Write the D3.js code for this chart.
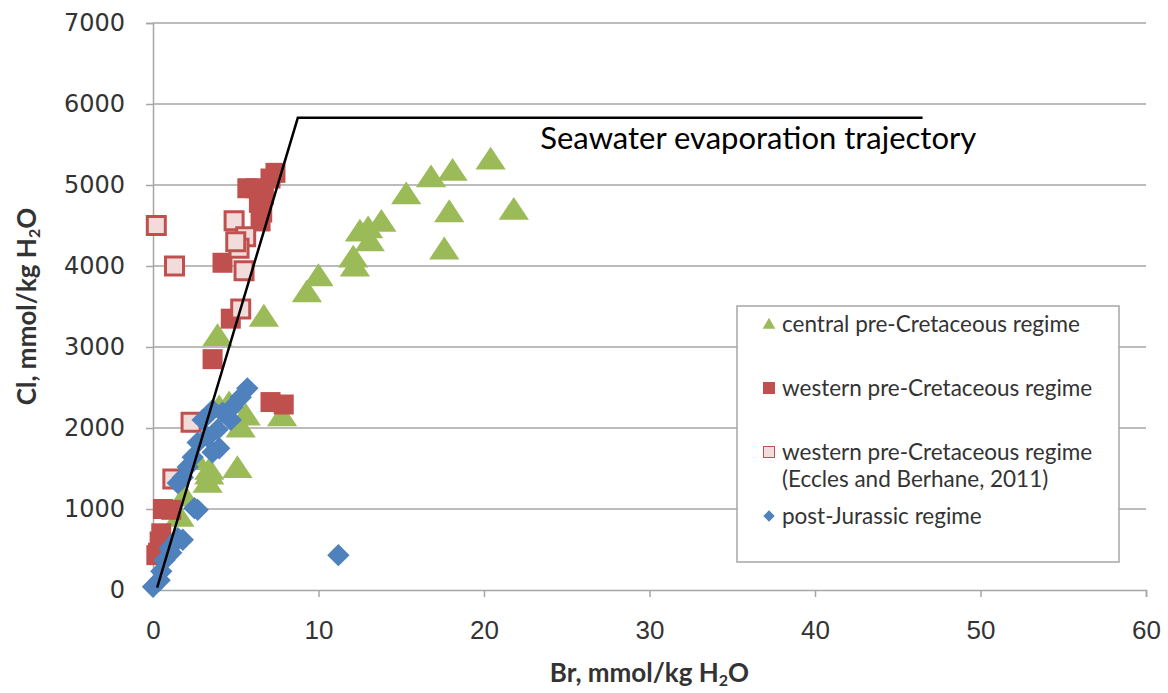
<!DOCTYPE html>
<html>
<head>
<meta charset="utf-8">
<script src="https://cdn.jsdelivr.net/npm/d3@7"></script>
<style>
  body { margin: 0; background: #fff; }
</style>
</head>
<body>
<div id="chart"></div>
<script>
// Br (mmol/kg H2O), Cl (mmol/kg H2O) pairs
const centralPreCretaceous = [
  [20.4,5310],[18.1,5170],[16.8,5090],[15.3,4880],[21.8,4690],[17.9,4660],[17.6,4200],
  [13.8,4540],[13.0,4460],[12.5,4420],[13.1,4300],[12.1,4100],[12.2,3990],[10.0,3870],
  [9.3,3670],[6.7,3370],[3.9,3130],[7.8,2140],[5.1,1500],[5.3,2000],[5.6,2150],
  [3.4,1480],[3.4,1420],[3.3,1320],[1.6,900],[4.0,2250],[2.6,1600],[4.6,2300],[1.9,1150]
];
const westernPreCretaceous = [
  [7.4,5150],[7.1,5080],[5.7,4960],[6.2,4960],[6.7,4880],[6.4,4780],[6.6,4660],[6.5,4550],
  [4.2,4040],[4.7,3350],[3.6,2850],[7.1,2320],[7.9,2290],[0.6,1000],[1.1,990],
  [0.5,700],[0.4,600],[0.2,430],[0.3,460]
];
const westernEccles = [
  [0.2,4500],[1.3,4000],[4.9,4560],[5.6,4360],[5.2,4220],[5.0,4300],[5.5,3940],
  [5.3,3470],[2.3,2070],[1.2,1370]
];
const postJurassic = [
  [0.0,40],[0.4,120],[0.5,230],[0.7,370],[1.1,460],[1.0,520],[1.8,620],[1.5,640],
  [2.5,1010],[2.7,990],[1.5,1320],[1.8,1390],[2.1,1520],[2.4,1640],[2.7,1820],[3.3,1890],
  [3.6,1700],[4.0,1750],[3.9,1980],[3.0,2100],[4.7,2100],[3.6,2220],[4.2,2190],[4.8,2260],
  [5.3,2380],[5.7,2490],[11.2,430]
];
const seawaterTrajectory = [[0.25,30],[8.75,5830],[46.5,5830]];
const seawaterLabel = "Seawater evaporation trajectory";
const xTicks = [0,10,20,30,40,50,60];
const yTicks = [0,1000,2000,3000,4000,5000,6000,7000];
const legendLabels = [
  ["central pre-Cretaceous regime"],
  ["western pre-Cretaceous regime"],
  ["western pre-Cretaceous regime", "(Eccles and Berhane, 2011)"],
  ["post-Jurassic regime"]
];

const width = 1168, height = 693;
const margin = {top: 23, right: 22, bottom: 103, left: 153};
const w = width - margin.left - margin.right;
const h = height - margin.top - margin.bottom;

const svg = d3.select('#chart').append('svg')
  .attr('width', width).attr('height', height)
  .style('font-family', 'Lato, sans-serif');

const x = d3.scaleLinear().domain([0, 60]).range([0, w]);
const y = d3.scaleLinear().domain([0, 7000]).range([h, 0]);

const g = svg.append('g').attr('transform', 'translate(' + margin.left + ',' + margin.top + ')');

// gridlines
g.append('g')
  .selectAll('line')
  .data(yTicks.filter(d => d > 0))
  .enter().append('line')
    .attr('x1', 0).attr('x2', w)
    .attr('y1', d => y(d)).attr('y2', d => y(d))
    .attr('stroke', '#a6a6a6').attr('stroke-width', 1.5);

// y axis
const yAxis = g.append('g')
  .call(d3.axisLeft(y).tickValues(yTicks).tickSize(7).tickPadding(21).tickFormat(d3.format('d')));
yAxis.select('.domain').attr('stroke', '#a6a6a6').attr('stroke-width', 1.5);
yAxis.selectAll('.tick line').attr('stroke', '#a6a6a6').attr('stroke-width', 1.5);
yAxis.selectAll('.tick text')
  .style('font-family', '"DejaVu Sans", Verdana, sans-serif')
  .style('font-size', '24px').attr('fill', '#333');

// x axis
const xAxis = g.append('g')
  .attr('transform', 'translate(0,' + h + ')')
  .call(d3.axisBottom(x).tickValues(xTicks).tickSize(7).tickPadding(24));
xAxis.select('.domain').attr('stroke', '#a6a6a6').attr('stroke-width', 1.5);
xAxis.selectAll('.tick line').attr('stroke', '#a6a6a6').attr('stroke-width', 1.5);
xAxis.selectAll('.tick text')
  .style('font-size', '26px').attr('fill', '#333');

// axis titles
const xt = svg.append('text')
  .attr('x', margin.left + x(30)).attr('y', 682)
  .attr('text-anchor', 'middle')
  .style('font-size', '26px').style('font-weight', 'bold').attr('fill', '#333');
xt.append('tspan').text('Br, mmol/kg H');
xt.append('tspan').attr('font-size', '16px').attr('dy', 4).text('2');
xt.append('tspan').attr('dy', -4).text('O');

const yt = svg.append('text')
  .attr('transform', 'translate(36,' + (margin.top + y(3500)) + ') rotate(-90)')
  .attr('text-anchor', 'middle')
  .style('font-size', '26px').style('font-weight', 'bold').attr('fill', '#333');
yt.append('tspan').text('Cl, mmol/kg H');
yt.append('tspan').attr('font-size', '16px').attr('dy', 4).text('2');
yt.append('tspan').attr('dy', -4).text('O');

// markers
const tri = d3.symbol().type(d3.symbolTriangle).size(300);
const sq = d3.symbol().type(d3.symbolSquare).size(400);
const dia = d3.symbol().type(d3.symbolSquare).size(250);

g.selectAll('.central').data(centralPreCretaceous).enter().append('path')
  .attr('class', 'central')
  .attr('d', tri)
  .attr('transform', d => 'translate(' + x(d[0]) + ',' + (y(d[1]) + 2) + ') scale(1.15,1)')
  .attr('fill', '#9bbb59');

g.selectAll('.western').data(westernPreCretaceous).enter().append('path')
  .attr('class', 'western')
  .attr('d', sq)
  .attr('transform', d => 'translate(' + x(d[0]) + ',' + y(d[1]) + ')')
  .attr('fill', '#c0504d');

g.selectAll('.eccles').data(westernEccles).enter().append('path')
  .attr('class', 'eccles')
  .attr('d', d3.symbol().type(d3.symbolSquare).size(324))
  .attr('transform', d => 'translate(' + x(d[0]) + ',' + y(d[1]) + ')')
  .attr('fill', '#f2dcdb').attr('stroke', '#c0504d').attr('stroke-width', 3);

g.selectAll('.post').data(postJurassic).enter().append('path')
  .attr('class', 'post')
  .attr('d', dia)
  .attr('transform', d => 'translate(' + x(d[0]) + ',' + y(d[1]) + ') rotate(45)')
  .attr('fill', '#4f81bd');

// seawater line
g.append('path')
  .datum(seawaterTrajectory)
  .attr('fill', 'none').attr('stroke', '#000').attr('stroke-width', 2.5)
  .attr('d', d3.line().x(d => x(d[0])).y(d => y(d[1])));

g.append('text')
  .attr('x', x(23.4)).attr('y', y(5440))
  .style('font-size', '31px').attr('fill', '#000')
  .text(seawaterLabel);

// legend
const lg = svg.append('g').attr('transform', 'translate(737,306)');
lg.append('rect').attr('width', 382).attr('height', 256)
  .attr('fill', '#fff').attr('stroke', '#a6a6a6').attr('stroke-width', 1.5);

const rowY = [18, 82, 146, 210];
const legendMarks = [
  s => s.append('path').attr('d', d3.symbol().type(d3.symbolTriangle).size(70)).attr('transform', 'translate(0,1)').attr('fill', '#9bbb59'),
  s => s.append('rect').attr('x', -6).attr('y', -6).attr('width', 12).attr('height', 12).attr('fill', '#c0504d'),
  s => s.append('rect').attr('x', -5.5).attr('y', -5.5).attr('width', 11).attr('height', 11).attr('fill', '#f2dcdb').attr('stroke', '#c0504d').attr('stroke-width', 1),
  s => s.append('path').attr('d', d3.symbol().type(d3.symbolSquare).size(64)).attr('transform', 'rotate(45)').attr('fill', '#4f81bd')
];
legendLabels.forEach((lines, i) => {
  const row = lg.append('g').attr('transform', 'translate(32,' + rowY[i] + ')');
  legendMarks[i](row);
  const t = row.append('text').attr('x', 13).attr('y', 8)
    .style('font-size', '22.5px').attr('fill', '#333');
  lines.forEach((ln, j) => t.append('tspan').attr('x', 13).attr('dy', j === 0 ? 0 : 27).text(ln));
});
</script>
</body>
</html>
